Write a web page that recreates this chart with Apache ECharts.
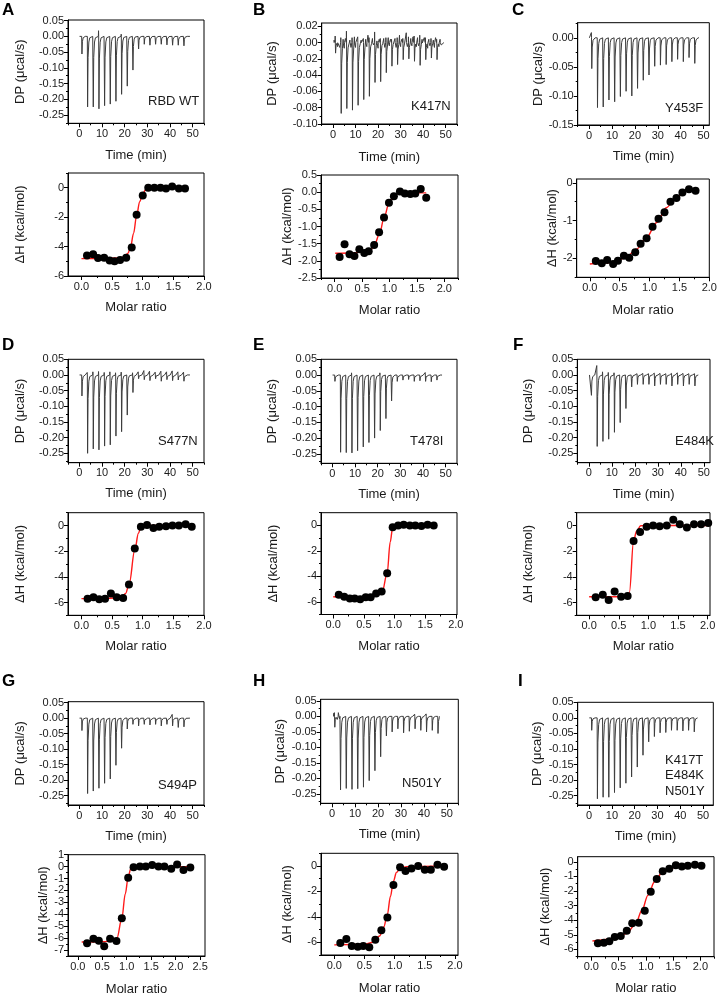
<!DOCTYPE html>
<html><head><meta charset="utf-8">
<script src="https://cdn.jsdelivr.net/npm/echarts@6/dist/echarts.min.js"></script>
<style>html,body{margin:0;padding:0;background:#fff}#c{width:722px;height:995px}</style>
</head><body><div id="c"></div>
<script>
// ---------------- DATA ----------------
const panelLetters = ['A','B','C','D','E','F','G','H','I'];
const panelNotes = ['RBD WT','K417N','Y453F','S477N','T478I','E484K','S494P','N501Y','K417T\nE484K\nN501Y'];

// injection times (min)
const injTimes = [1, 3.5, 6, 8.5, 11, 13.5, 16, 18.5, 21, 23.5, 26, 28.5, 31, 33.5, 36, 38.5, 41, 43.5, 46];
// thermogram start / end (min)
const traceA = [0.1, 48.8], traceB = [0.4, 49.2], traceC = [0.1, 48.0], traceD = [0.1, 48.8], traceE = [0.1, 48.4],
      traceF = [0.3, 47.6], traceG = [0.1, 48.8], traceH = [0.6, 46.8], traceI = [0.1, 47.8];

// peak depth of every injection (ucal/s)
const peaksA = [-0.056,-0.224,-0.224,-0.23,-0.22,-0.215,-0.206,-0.184,-0.158,-0.107,-0.04,-0.025,-0.028,-0.025,-0.025,-0.027,-0.028,-0.028,-0.03];
const peaksB = [-0.013,-0.087,-0.081,-0.083,-0.077,-0.07,-0.066,-0.049,-0.048,-0.037,-0.029,-0.027,-0.021,-0.02,-0.023,-0.028,-0.021,-0.019,-0.021];
const peaksC = [-0.053,-0.12,-0.119,-0.107,-0.11,-0.101,-0.092,-0.1,-0.087,-0.073,-0.064,-0.049,-0.047,-0.046,-0.041,-0.037,-0.041,-0.034,-0.044];
const peaksD = [-0.067,-0.25,-0.236,-0.239,-0.227,-0.223,-0.195,-0.181,-0.128,-0.056,-0.012,-0.015,-0.018,-0.012,-0.02,-0.015,-0.018,-0.016,-0.02];
const peaksE = [-0.02,-0.245,-0.246,-0.247,-0.24,-0.228,-0.214,-0.2,-0.176,-0.138,-0.082,-0.02,-0.016,-0.014,-0.02,-0.018,-0.02,-0.021,-0.016];
const peaksF = [-0.065,-0.228,-0.212,-0.205,-0.183,-0.152,-0.107,-0.038,-0.03,-0.03,-0.03,-0.035,-0.03,-0.03,-0.035,-0.03,-0.035,-0.03,-0.035];
const peaksG = [-0.04,-0.243,-0.235,-0.226,-0.21,-0.196,-0.152,-0.097,-0.035,-0.02,-0.025,-0.02,-0.022,-0.02,-0.025,-0.02,-0.025,-0.03,-0.028];
const peaksH = [-0.035,-0.237,-0.232,-0.235,-0.233,-0.228,-0.207,-0.175,-0.13,-0.063,-0.05,-0.04,-0.053,-0.048,-0.04,-0.045,-0.05,-0.045,-0.055];
const peaksI = [-0.04,-0.26,-0.255,-0.255,-0.24,-0.225,-0.21,-0.19,-0.158,-0.12,-0.077,-0.06,-0.048,-0.047,-0.04,-0.04,-0.042,-0.04,-0.045];

// small upward overshoot at every injection (ucal/s)
const upsA = [0.003,0.004,0.005,0.018,0.006,0.005,0.006,0.007,0.005,0.004,0.004,0.003,0.004,0.004,0.003,0.004,0.003,0.003,0.002];
const upsB = [0.008,0.006,0.014,0.006,0.007,0.005,0.006,0.013,0.005,0.006,0.004,0.006,0.005,0.007,0.008,0.009,0.006,0.005,0.004];
const upsC = [0.009,0.003,0.003,0.002,0.003,0.003,0.002,0.003,0.003,0.002,0.003,0.002,0.003,0.003,0.002,0.003,0.002,0.003,0.002];
const upsD = [0.006,0.008,0.01,0.011,0.008,0.01,0.007,0.009,0.006,0.007,0.01,0.014,0.012,0.009,0.012,0.01,0.013,0.01,0.009];
const upsE = [0.004,0.006,0.006,0.007,0.005,0.006,0.005,0.006,0.007,0.005,0.004,0.005,0.004,0.005,0.005,0.004,0.008,0.006,0.006];
const upsF = [0.005,0.03,0.01,0.008,0.007,0.005,0.006,0.004,0.004,0.005,0.004,0.006,0.005,0.004,0.005,0.007,0.005,0.004,0.004];
const upsG = [0.003,0.004,0.004,0.005,0.004,0.005,0.004,0.004,0.005,0.004,0.006,0.005,0.005,0.006,0.005,0.004,0.012,0.006,0.005];
const upsH = [0.012,0.006,0.005,0.006,0.005,0.006,0.005,0.004,0.005,0.006,0.005,0.006,0.005,0.006,0.007,0.006,0.008,0.006,0.005];
const upsI = [0.006,0.005,0.005,0.006,0.005,0.005,0.004,0.005,0.005,0.004,0.005,0.004,0.005,0.004,0.004,0.005,0.004,0.005,0.004];

const noiseB = [0.003,-0.004,0.006,-0.005,0.002,-0.006,0.011,-0.003,0.004,-0.007,0.005,-0.002,0.008,-0.005,0.003,-0.006,0.004,-0.003,0.007,-0.006,0.002,-0.004,0.006,-0.007,0.003,-0.002,0.005,-0.006,0.004,-0.005,0.009,-0.004,0.003,-0.006,0.005,-0.003,0.006,-0.005,0.002,-0.007,0.004,-0.004,0.007,-0.003,0.005,-0.006,0.003,-0.005,0.006,-0.004,0.004,-0.007,0.008,-0.003,0.005,-0.006,0.003,-0.004,0.009,-0.005,0.004,-0.006,0.006,-0.003,0.012,-0.005,0.004,-0.006,0.005,-0.004,0.007,-0.006,0.003,-0.005,0.006,-0.004,0.008,-0.006,0.004,-0.003,0.006,-0.005,0.005,-0.007,0.004,-0.004,0.007,-0.005,0.003,-0.006,0.006,-0.004,0.005,-0.005,0.004,-0.003];
const noiseH = [0.01,-0.012,0.008,-0.01,0.012,-0.008];

// integrated heats: molar ratio and dH (kcal/mol)
const ratioA = [0.09,0.19,0.27,0.37,0.46,0.54,0.63,0.73,0.82,0.90,1.00,1.09,1.19,1.29,1.38,1.48,1.59,1.69];
const dhA    = [-4.6,-4.53,-4.78,-4.76,-4.94,-4.99,-4.92,-4.76,-4.07,-1.84,-0.53,0,0,0,-0.05,0.09,-0.05,-0.05];
const ratioB = [0.09,0.18,0.27,0.36,0.45,0.54,0.62,0.72,0.81,0.90,0.99,1.08,1.19,1.28,1.38,1.47,1.57,1.67];
const dhB    = [-1.89,-1.52,-1.81,-1.86,-1.66,-1.77,-1.72,-1.54,-1.17,-0.74,-0.31,-0.12,0.02,-0.04,-0.05,-0.04,0.09,-0.16];
const ratioC = [0.10,0.20,0.29,0.39,0.47,0.57,0.66,0.76,0.85,0.95,1.05,1.15,1.25,1.35,1.45,1.55,1.66,1.77];
const dhC    = [-2.07,-2.13,-2.04,-2.15,-2.06,-1.93,-1.98,-1.84,-1.61,-1.47,-1.16,-0.95,-0.78,-0.50,-0.40,-0.26,-0.17,-0.21];
const ratioD = [0.10,0.195,0.29,0.385,0.48,0.575,0.68,0.775,0.87,0.97,1.07,1.175,1.27,1.38,1.485,1.59,1.70,1.80];
const dhD    = [-5.7,-5.6,-5.75,-5.7,-5.3,-5.6,-5.65,-4.6,-1.8,-0.1,0.05,-0.2,-0.1,-0.05,0,0,0.1,-0.1];
const ratioE = [0.09,0.18,0.27,0.35,0.44,0.53,0.61,0.70,0.79,0.88,0.97,1.06,1.15,1.25,1.34,1.44,1.54,1.64];
const dhE    = [-5.45,-5.6,-5.75,-5.75,-5.8,-5.65,-5.65,-5.35,-5.2,-3.75,-0.15,0,0.05,0,0,-0.05,0.05,0];
const ratioF = [0.11,0.23,0.33,0.43,0.54,0.65,0.75,0.86,0.97,1.08,1.19,1.31,1.42,1.53,1.65,1.77,1.89,2.01];
const dhF    = [-5.6,-5.4,-5.8,-5.15,-5.55,-5.5,-1.2,-0.5,-0.1,0,-0.05,0,0.45,0.1,-0.15,0.1,0.1,0.2];
const ratioG = [0.19,0.32,0.43,0.54,0.66,0.79,0.90,1.03,1.14,1.27,1.39,1.52,1.65,1.77,1.91,2.03,2.16,2.30];
const dhG    = [-6.44,-6.06,-6.22,-6.69,-6.06,-6.25,-4.33,-0.94,-0.06,0,0,0.14,0,0,-0.17,0.17,-0.28,-0.08];
const ratioH = [0.10,0.20,0.29,0.39,0.48,0.58,0.68,0.78,0.88,0.98,1.09,1.18,1.28,1.39,1.50,1.60,1.71,1.82];
const dhH    = [-6.05,-5.75,-6.3,-6.35,-6.3,-6.4,-5.8,-5.05,-4.05,-1.5,-0.1,-0.4,-0.2,0,-0.3,-0.3,0.1,-0.05];
const ratioI = [0.12,0.23,0.33,0.43,0.54,0.65,0.75,0.87,0.98,1.09,1.20,1.31,1.43,1.55,1.66,1.77,1.90,2.02];
const dhI    = [-5.58,-5.54,-5.44,-5.15,-5.08,-4.72,-4.21,-4.17,-3.35,-2.05,-1.18,-0.64,-0.48,-0.23,-0.32,-0.27,-0.2,-0.27];

// fitted curves [molar ratio, dH]
const fitA = [[0,-4.82],[0.3,-4.81],[0.6,-4.78],[0.7,-4.7],[0.76,-4.45],[0.8,-4.05],[0.85,-3.1],[0.9,-1.9],[0.95,-0.95],[1.0,-0.4],[1.05,-0.13],[1.1,-0.03],[1.2,0],[1.69,0]];
const fitB = [[0.01,-1.78],[0.3,-1.77],[0.58,-1.74],[0.66,-1.68],[0.73,-1.51],[0.82,-1.2],[0.9,-0.75],[0.99,-0.33],[1.08,-0.09],[1.16,-0.03],[1.3,-0.02],[1.67,-0.02]];
const fitC = [[0,-2.15],[0.39,-2.11],[0.61,-1.97],[0.78,-1.76],[0.95,-1.44],[1.12,-1.05],[1.28,-0.66],[1.45,-0.37],[1.62,-0.21],[1.77,-0.16]];
const fitD = [[0,-5.7],[0.4,-5.68],[0.66,-5.62],[0.72,-5.3],[0.78,-4.5],[0.87,-1.9],[0.93,-0.6],[0.97,-0.12],[1.02,0],[1.8,0]];
const fitE = [[0,-5.6],[0.3,-5.65],[0.5,-5.65],[0.7,-5.5],[0.8,-5.2],[0.88,-3.75],[0.93,-1.3],[0.97,-0.15],[1.0,0],[1.64,0]];
const fitF = [[0,-5.55],[0.65,-5.55],[0.68,-5.2],[0.75,-1.2],[0.8,-0.45],[0.87,-0.02],[0.95,0],[2.01,0]];
const fitG = [[0.08,-6.33],[0.5,-6.3],[0.76,-6.25],[0.8,-6.0],[0.9,-4.35],[0.97,-2.3],[1.03,-0.9],[1.08,-0.2],[1.15,0],[2.3,0]];
const fitH = [[0,-6.2],[0.5,-6.15],[0.65,-6.0],[0.75,-5.5],[0.82,-4.8],[0.88,-3.8],[0.93,-2.4],[0.98,-1.2],[1.03,-0.5],[1.1,-0.15],[1.2,-0.05],[1.82,0]];
const fitI = [[0.02,-5.42],[0.44,-5.28],[0.65,-4.9],[0.81,-4.26],[0.93,-3.3],[1.04,-2.28],[1.16,-1.37],[1.3,-0.73],[1.48,-0.41],[1.72,-0.27],[2.02,-0.23]];

// tick labels
const timeTicks = [0, 10, 20, 30, 40, 50];
const dpTicks = [0.05, 0, -0.05, -0.1, -0.15, -0.2, -0.25];
const dpTicksB = [0.02, 0, -0.02, -0.04, -0.06, -0.08, -0.1];
const dpTicksC = [0, -0.05, -0.1, -0.15];
const ratioTicks = [0, 0.5, 1, 1.5, 2];
const ratioTicksG = [0, 0.5, 1, 1.5, 2, 2.5];
const dhTicks = [0, -2, -4, -6];
const dhTicksB = [0.5, 0, -0.5, -1, -1.5, -2, -2.5];
const dhTicksC = [0, -1, -2];
const dhTicksG = [1, 0, -1, -2, -3, -4, -5, -6, -7];
const dhTicksI = [0, -1, -2, -3, -4, -5, -6];

// axis ranges
const timeRanges = [[-5,55],[-5,55],[-5,52.5],[-5,55],[-5,55],[-5,52.7],[-5,55],[-5,55],[-5,54.5]];
const dpRanges = [[-0.276,0.052],[-0.1,0.024],[-0.15,0.026],[-0.28,0.05],[-0.28,0.05],[-0.28,0.05],[-0.28,0.053],[-0.28,0.055],[-0.28,0.05]];
const ratioRanges = [[-0.22,2.0],[-0.25,2.25],[-0.22,2.0],[-0.22,2.0],[-0.2,2.02],[-0.21,2.04],[-0.2,2.6],[-0.22,2.05],[-0.25,2.25]];
const dhRanges = [[-6,1],[-2.5,0.5],[-2.5,0.1],[-7,1],[-7,1],[-7,1],[-7.5,1],[-7,1],[-6.5,0.35]];

// ---------------- LAYOUT (pixels) ----------------
const layout = [
 {letter:[2,2],    top:[68,20,204,123.3],     bot:[68,173,204,276],       timeY:155,   molarY:307,   dpX:20,  dhX:20,  note:[148,101.7]},
 {letter:[253,2],  top:[321.7,23,457,124],    bot:[321,175,458,278],      timeY:157,   molarY:310,   dpX:272, dhX:287, note:[411,106.7]},
 {letter:[512,2],  top:[577.7,22.7,709.3,125],bot:[576.7,179,709.3,277.3],timeY:156.7, molarY:310,   dpX:546, dhX:553, note:[665,108.3]},
 {letter:[2,337],  top:[68,359.3,204,462.7],  bot:[68,512.7,204,615.3],   timeY:493.3, molarY:646.7, dpX:20,  dhX:20,  note:[158,441.7]},
 {letter:[253,337],top:[321,359.3,457,463.3], bot:[321,512.7,457,614.5],  timeY:494,   molarY:646.7, dpX:272, dhX:273, note:[410,441.7]},
 {letter:[513,337],top:[577.3,359.3,710,462.7],bot:[576.7,512.7,710,615.3],timeY:494,  molarY:646.7, dpX:528, dhX:528, note:[675,441.7]},
 {letter:[2,673],  top:[68,701.7,204,805],    bot:[68,854.7,205,956],     timeY:836.7, molarY:989,   dpX:20,  dhX:44,  note:[158,785]},
 {letter:[253,673],top:[320.7,699.3,458.3,803.3],bot:[321,853.3,458,955], timeY:834,   molarY:988,   dpX:280, dhX:287, note:[402,783]},
 {letter:[518,673],top:[577.7,702.3,713.3,805],bot:[577.7,856.7,714,956.7],timeY:836.7,molarY:988,   dpX:537, dhX:545, note:[665,775.5]}
];

const panels = [
 {trace:traceA, peaks:peaksA, ups:upsA, noise:null, ratio:ratioA, dh:dhA, fit:fitA, dpT:dpTicks,  rT:ratioTicks,  dhT:dhTicks,  dhDec:0},
 {trace:traceB, peaks:peaksB, ups:upsB, noise:{start:0.5, vals:noiseB}, ratio:ratioB, dh:dhB, fit:fitB, dpT:dpTicksB, rT:ratioTicks, dhT:dhTicksB, dhDec:1},
 {trace:traceC, peaks:peaksC, ups:upsC, noise:null, ratio:ratioC, dh:dhC, fit:fitC, dpT:dpTicksC, rT:ratioTicks,  dhT:dhTicksC, dhDec:0},
 {trace:traceD, peaks:peaksD, ups:upsD, noise:null, ratio:ratioD, dh:dhD, fit:fitD, dpT:dpTicks,  rT:ratioTicks,  dhT:dhTicks,  dhDec:0},
 {trace:traceE, peaks:peaksE, ups:upsE, noise:null, ratio:ratioE, dh:dhE, fit:fitE, dpT:dpTicks,  rT:ratioTicks,  dhT:dhTicks,  dhDec:0},
 {trace:traceF, peaks:peaksF, ups:upsF, noise:null, ratio:ratioF, dh:dhF, fit:fitF, dpT:dpTicks,  rT:ratioTicks,  dhT:dhTicks,  dhDec:0},
 {trace:traceG, peaks:peaksG, ups:upsG, noise:null, ratio:ratioG, dh:dhG, fit:fitG, dpT:dpTicks,  rT:ratioTicksG, dhT:dhTicksG, dhDec:0},
 {trace:traceH, peaks:peaksH, ups:upsH, noise:{start:0.7, vals:noiseH}, ratio:ratioH, dh:dhH, fit:fitH, dpT:dpTicks, rT:ratioTicks, dhT:dhTicks, dhDec:0},
 {trace:traceI, peaks:peaksI, ups:upsI, noise:null, ratio:ratioI, dh:dhI, fit:fitI, dpT:dpTicks,  rT:ratioTicks,  dhT:dhTicksI, dhDec:0}
];

// ---------------- BUILD ----------------
const FONT = '"Liberation Sans", Arial, sans-serif';
const TICKFS = 11, TITLEFS = 13;

function minorsOf(majors, range) {
  const s = [...majors].sort((a,b)=>a-b);
  const step = s[1]-s[0];
  const out = [];
  for (let i=0;i<s.length-1;i++) out.push((s[i]+s[i+1])/2);
  const lo = s[0]-step/2, hi = s[s.length-1]+step/2;
  if (lo >= range[0]-1e-9) out.push(lo);
  if (hi <= range[1]+1e-9) out.push(hi);
  return out;
}
function fmt(dec){ return v => { const x = Math.abs(v) < 1e-9 ? 0 : v; return x.toFixed(dec); }; }

function buildTrace(p) {
  const pts = [[p.trace[0], 0]];
  injTimes.forEach((t,i) => {
    const pk = p.peaks[i], up = p.ups[i];
    pts.push([t-0.1, 0],[t-0.03, up],[t+0.03, 0],[t+0.15, pk],[t+0.35, pk*0.3],[t+0.7, pk*0.08],[t+1.1, pk*0.02],[t+1.6, 0]);
  });
  if (p.noise) {
    p.noise.vals.forEach((v,k) => {
      const t = p.noise.start + 0.5*k;
      const near = injTimes.some(ti => t > ti-0.2 && t < ti+0.8);
      if (!near && t < p.trace[1]) pts.push([t, v]);
    });
  }
  pts.push([p.trace[1], 0]);
  return pts.filter(q => q[0] >= p.trace[0] && q[0] <= p.trace[1]).sort((a,b)=>a[0]-b[0]);
}

const grids = [], xAxes = [], yAxes = [], series = [], graphics = [];

function axisPair(kind, gridIndex, range, majors, dec, name, nameGap) {
  const base = {
    type:'value', gridIndex, min:range[0], max:range[1], position: kind==='x' ? 'bottom' : 'left',
    splitLine:{show:false}, scale:false
  };
  const major = Object.assign({}, base, {
    axisLine:{show:true, onZero:false, lineStyle:{color:'#000', width:1}},
    axisTick:{show:true, inside:false, length:4, customValues: majors, lineStyle:{color:'#000', width:1}},
    axisLabel:{show:true, customValues: majors, formatter: fmt(dec), fontSize:TICKFS, color:'#1a1a1a', fontFamily:FONT, margin: kind==='x' ? 5 : 4},
    name, nameLocation:'middle', nameGap,
    nameTextStyle:{fontSize:TITLEFS, color:'#1a1a1a', fontFamily:FONT}
  });
  const minor = Object.assign({}, base, {
    axisLine:{show:false, onZero:false},
    axisTick:{show:true, inside:false, length:2, customValues: minorsOf(majors, range), lineStyle:{color:'#000', width:1}},
    axisLabel:{show:false}
  });
  return [major, minor];
}

panels.forEach((p, k) => {
  const L = layout[k];
  [['top', L.top], ['bot', L.bot]].forEach(([w, r]) => {
    grids.push({left:r[0], top:r[1], width:r[2]-r[0], height:r[3]-r[1], show:true, borderColor:'#000', borderWidth:1,
                backgroundColor:'transparent', containLabel:false, outerBoundsMode:'none'});
  });
  const gTop = 2*k, gBot = 2*k+1;
  const xt = axisPair('x', gTop, timeRanges[k], timeTicks, 0, 'Time (min)', L.timeY - L.top[3] - TITLEFS/2);
  const yt = axisPair('y', gTop, dpRanges[k], p.dpT, 2, 'DP (\u03BCcal/s)', L.top[0] - L.dpX - TITLEFS/2);
  const xb = axisPair('x', gBot, ratioRanges[k], p.rT, 1, 'Molar ratio', L.molarY - L.bot[3] - TITLEFS/2);
  const yb = axisPair('y', gBot, dhRanges[k], p.dhT, p.dhDec, '\u0394H (kcal/mol)', L.bot[0] - L.dhX - TITLEFS/2);
  const xi = xAxes.length, yi = yAxes.length;
  xAxes.push(xt[0], xt[1], xb[0], xb[1]);
  yAxes.push(yt[0], yt[1], yb[0], yb[1]);

  series.push({type:'line', xAxisIndex:xi, yAxisIndex:yi, data: buildTrace(p), showSymbol:false, symbol:'none',
               lineStyle:{color:'#3c3c3c', width:1}, animation:false, silent:true, z:2});
  series.push({type:'line', xAxisIndex:xi+2, yAxisIndex:yi+2, data: p.fit, showSymbol:false, symbol:'none',
               smooth:0.35, smoothMonotone:'x', lineStyle:{color:'#ff1a1a', width:1.4}, animation:false, silent:true, z:2});
  series.push({type:'scatter', xAxisIndex:xi+2, yAxisIndex:yi+2, data: p.ratio.map((x,i)=>[x, p.dh[i]]),
               symbol:'circle', symbolSize:8, itemStyle:{color:'#000', opacity:1}, animation:false, silent:true, z:3});

  graphics.push({type:'text', x:L.letter[0], y:L.letter[1], style:{text:panelLetters[k], font:'bold 17px '+FONT, fill:'#000', align:'left', verticalAlign:'top'}});
  graphics.push({type:'text', x:L.note[0], y:L.note[1], style:{text:panelNotes[k], font:TITLEFS+'px '+FONT, fill:'#1a1a1a', align:'left', verticalAlign:'middle', lineHeight:15.5}});
});

const chart = echarts.init(document.getElementById('c'), null, {renderer:'canvas', width:722, height:995});
chart.setOption({
  backgroundColor:'#fff',
  animation:false,
  grid: grids, xAxis: xAxes, yAxis: yAxes, series, graphic: graphics
});
</script></body></html>
